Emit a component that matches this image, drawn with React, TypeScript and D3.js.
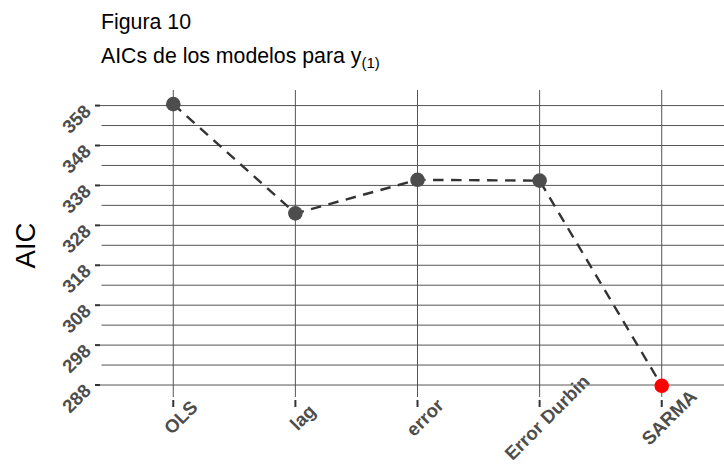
import React from "react";
import * as d3 from "d3";

const models = ["OLS", "lag", "error", "Error Durbin", "SARMA"];
const aicValues = [358.35, 331.0, 339.4, 339.2, 287.8];
const highlightModel = "SARMA";
const majorTicks = [288, 298, 308, 318, 328, 338, 348, 358];
const minorTicks = [293, 303, 313, 323, 333, 343, 353];
const titleText = "Figura 10";
const subtitleText = "AICs de los modelos para y";
const subtitleSub = "(1)";
const yTitle = "AIC";

const W = 724;
const H = 468;
const panel = { left: 100, right: 735, top: 90, bottom: 397 };
const FONT = "'Liberation Sans', Arial, Helvetica, sans-serif";

export default function App() {
  const x = d3
    .scalePoint<string>()
    .domain(models)
    .range([panel.left, panel.right])
    .padding(0.6);
  const y = d3.scaleLinear().domain([285, 361.9]).range([panel.bottom, panel.top]);

  const data = models.map((m, i) => ({ m, v: aicValues[i] }));
  const line = d3
    .line<{ m: string; v: number }>()
    .x((d) => x(d.m) as number)
    .y((d) => y(d.v));

  const gridColor = "#555555";

  return (
    <svg width={W} height={H} style={{ position: "absolute", left: 0, top: 0, background: "#fff" }}>
      <rect x={0} y={0} width={W} height={H} fill="#ffffff" />
      {/* titles */}
      <text x={101} y={28.5} fontFamily={FONT} fontSize={21.3} fill="#000">
        {titleText}
      </text>
      <text x={101} y={63.3} fontFamily={FONT} fontSize={21.3} fill="#000">
        {subtitleText}
        <tspan fontSize={15} dy={4.5}>{subtitleSub}</tspan>
      </text>

      {/* gridlines */}
      {minorTicks.map((t) => (
        <line key={"mi" + t} x1={panel.left + 1.5} x2={W} y1={y(t)} y2={y(t)} stroke={gridColor} strokeWidth={1} />
      ))}
      {majorTicks.map((t) => (
        <line key={"ma" + t} x1={panel.left} x2={W} y1={y(t)} y2={y(t)} stroke={gridColor} strokeWidth={1} />
      ))}
      {models.map((m) => (
        <line key={"v" + m} x1={x(m)} x2={x(m)} y1={panel.top} y2={panel.bottom} stroke={gridColor} strokeWidth={1} />
      ))}

      {/* y axis ticks & labels */}
      {majorTicks.map((t) => (
        <g key={"yt" + t}>
          <line x1={95} x2={100} y1={y(t)} y2={y(t)} stroke="#333" strokeWidth={2} />
          <text
            transform={`translate(92,${y(t) + 7}) rotate(-45)`}
            textAnchor="end"
            fontFamily={FONT}
            fontWeight="bold"
            fontSize={18.67}
            fill="#4d4d4d"
          >
            {t}
          </text>
        </g>
      ))}

      {/* x axis ticks & labels */}
      {models.map((m) => (
        <g key={"xt" + m}>
          <line x1={x(m)} x2={x(m)} y1={400} y2={407} stroke="#333" strokeWidth={2} />
          <text
            transform={`translate(${(x(m) as number) + 12},${422}) rotate(-45)`}
            textAnchor="middle"
            fontFamily={FONT}
            fontWeight="bold"
            fontSize={18.67}
            fill="#4d4d4d"
          >
            {m}
          </text>
        </g>
      ))}

      {/* y title */}
      <text
        transform={`translate(35,${(panel.top + panel.bottom) / 2 + 2}) rotate(-90)`}
        textAnchor="middle"
        fontFamily={FONT}
        fontSize={27.5}
        fill="#000"
      >
        {yTitle}
      </text>

      {/* dashed line */}
      <path d={line(data) || ""} fill="none" stroke="#333333" strokeWidth={2.4} strokeDasharray="10.5 7.5" />
      {/* points */}
      {data.map((d) => (
        <circle
          key={"p" + d.m}
          cx={x(d.m)}
          cy={y(d.v)}
          r={7.3}
          fill={d.m === highlightModel ? "#ff0000" : "#4d4d4d"}
        />
      ))}
    </svg>
  );
}
